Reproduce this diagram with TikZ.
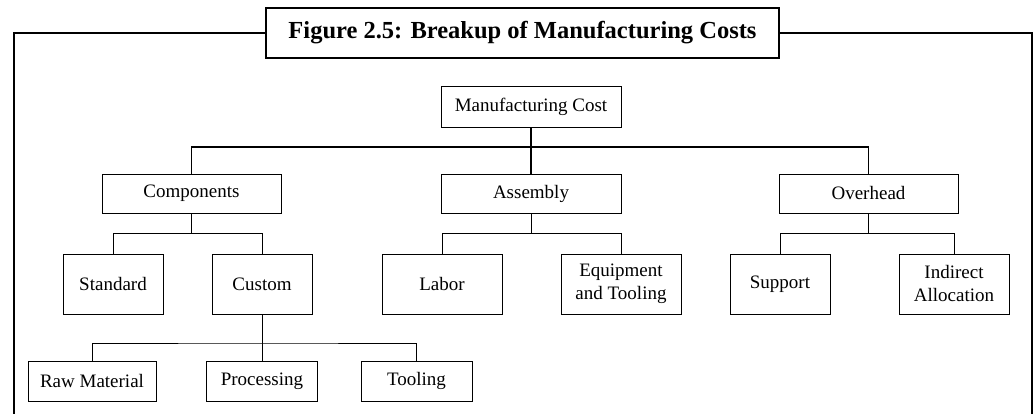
\documentclass[tikz,border=0pt]{standalone}
\usepackage{fontspec}
\setmainfont{Liberation Serif}
\usepackage{tikz}
\newcommand{\bx}{\fontsize{19}{23}\selectfont}

\begin{document}
\begin{tikzpicture}[x=1pt,y=-1pt,
    box/.style={draw,line width=0.6pt,inner sep=0pt,align=center,font=\bx},
    heading/.style={draw,line width=1.6pt,inner sep=0pt,font=\fontsize{24.5}{28}\selectfont\bfseries},
    frame/.style={line width=1.6pt},
    bus/.style={line width=1.4pt},
    link/.style={line width=0.8pt}]
      \useasboundingbox (0,0) rectangle (1034,414);
      \node[heading,minimum width=513pt,minimum height=50pt] (title) at (522.5,33)
        {Figure 2.5: Breakup of Manufacturing Costs};
      \draw[frame] (title.west) -- (14,33) -- (14,416);
      \draw[frame] (title.east) -- (1032,33) -- (1032,416);
      \node[box,minimum width=180pt,minimum height=41pt] (mc)   at (531,106.5) {Manufacturing Cost};
      \node[box,minimum width=179pt,minimum height=39pt] (comp) at (191.5,193.5) {Components};
      \node[box,minimum width=180pt,minimum height=39pt] (asm)  at (531,193.5) {Assembly};
      \node[box,minimum width=179pt,minimum height=39pt] (ovh)  at (868.5,193.5) {Overhead};
      \node[box,minimum width=100pt,minimum height=60pt] (std)  at (113,284) {Standard};
      \node[box,minimum width=100pt,minimum height=60pt] (cust) at (262,284) {Custom};
      \node[box,minimum width=120pt,minimum height=60pt] (lab)  at (442,284) {Labor};
      \node[box,minimum width=120pt,minimum height=60pt] (equ)  at (621,284) {Equipment\\and Tooling};
      \node[box,minimum width=100pt,minimum height=60pt] (sup)  at (780,284) {Support};
      \node[box,minimum width=110pt,minimum height=60pt] (ind)  at (954,284) {Indirect\\Allocation};
      \node[box,minimum width=128pt,minimum height=40pt] (raw)  at (92,381) {Raw Material};
      \node[box,minimum width=111pt,minimum height=40pt] (proc) at (262,381) {Processing};
      \node[box,minimum width=111pt,minimum height=40pt] (tool) at (416.5,381) {Tooling};
      \draw[bus] (mc.south) -- (asm.north);
      \coordinate (b1) at (531,147);
      \draw[bus] (comp.north) |- (b1) -| (ovh.north);
      \draw[link] (comp.south) -- ++(0,20) coordinate (b2);
      \draw[link] (std.north) |- (b2) -| (cust.north);
      \draw[link] (asm.south) -- ++(0,20) coordinate (b3);
      \draw[link] (lab.north) |- (b3) -| (equ.north);
      \draw[link] (ovh.south) -- ++(0,20) coordinate (b4);
      \draw[link] (sup.north) |- (b4) -| (ind.north);
      \draw[link] (cust.south) -- (proc.north);
      \coordinate (b5) at (262,343);
      \draw[link] (raw.north) |- (b5) -| (tool.north);
\end{tikzpicture}
\end{document}
